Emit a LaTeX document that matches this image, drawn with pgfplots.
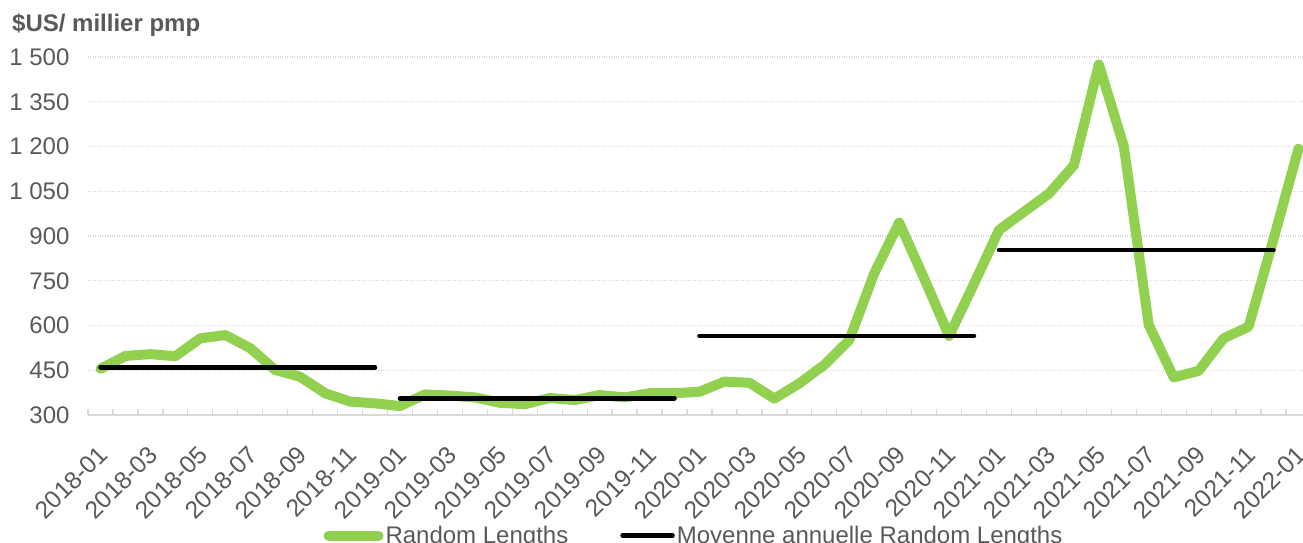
\documentclass[border=0pt]{standalone}
\usepackage{fontspec}
\setmainfont{Liberation Sans}
\usepackage{pgfplots}
\pgfplotsset{compat=1.18}
\definecolor{txtgray}{HTML}{595959}
\definecolor{rlgreen}{HTML}{92D050}
\definecolor{gridgray}{HTML}{D9D9D9}
\newcommand\chartfont{\fontsize{24}{28}\selectfont}
\newcommand\datefont{\fontsize{24.5}{28}\selectfont}

\begin{document}
\begin{tikzpicture}
\useasboundingbox (-88pt,-128pt) rectangle (1215pt,415pt);
\clip (-88pt,-128pt) rectangle (1215pt,415pt);
\begin{axis}[
  at={(0pt,0pt)}, anchor=south west,
  scale only axis, width=1223pt, height=358pt,
  xmin=-0.5, xmax=48.5, ymin=300, ymax=1500,
  axis line style={draw=none},
  xtick={0,2,...,48},
  xticklabels={2018-01,2018-03,2018-05,2018-07,2018-09,2018-11,
               2019-01,2019-03,2019-05,2019-07,2019-09,2019-11,
               2020-01,2020-03,2020-05,2020-07,2020-09,2020-11,
               2021-01,2021-03,2021-05,2021-07,2021-09,2021-11,2022-01},
  minor xtick={-0.5,0.5,...,48.5},
  xtick pos=left,
  major x tick style={draw=none},
  minor x tick style={gridgray, line width=1.3pt},
  minor tick length=6pt,
  xticklabel style={xshift=5pt, yshift=-33pt, rotate=45, anchor=east,
    font=\datefont, text=txtgray},
  ytick={300,450,...,1500},
  ytick style={draw=none},
  scaled y ticks=false,
  /pgf/number format/assume math mode=true,
  /pgf/number format/1000 sep={\ },
  yticklabel style={font=\chartfont, text=txtgray, xshift=-15pt},
  ymajorgrids,
  major y grid style={dotted, gridgray, line width=1.3pt},
  legend style={draw=none, fill=none, legend columns=2, font=\chartfont,
    text=txtgray, at={(0.4955,0)}, anchor=north, yshift=-107pt,
    /tikz/every even column/.append style={column sep=50pt}},
  legend cell align=left,
  legend image code/.code={\draw[#1] (0pt,0pt) -- (50pt,0pt);},
]
\draw[gridgray, line width=1.5pt] (rel axis cs:0,0) -- (rel axis cs:1,0);

% Random Lengths monthly price, $US per thousand board feet
\addplot[rlgreen, line width=10pt, line join=round, line cap=round] table {
x y
0 455
1 498
2 504
3 497
4 557
5 568
6 524
7 451
8 428
9 373
10 345
11 339
12 330
13 369
14 365
15 359
16 341
17 336
18 357
19 350
20 367
21 359
22 373
23 373
24 378
25 412
26 408
27 355
28 406
29 468
30 551
31 775
32 945
33 758
34 565
35 740
36 920
37 981
38 1042
39 1137
40 1475
41 1201
42 602
43 426
44 448
45 557
46 596
47 890
48 1193
};
\addlegendentry{Random Lengths}

% yearly averages, one segment per calendar year
\addplot[black, line width=4.5pt, line cap=round, unbounded coords=jump] table {
x y
0 460
11 460
11.5 nan
12 356
23 356
23.5 nan
24 565
35 565
35.5 nan
36 853
47 853
};
\addlegendentry{Moyenne annuelle Random Lengths}
\end{axis}
\node[anchor=base west, inner sep=0pt, font=\chartfont\bfseries, text=txtgray]
  at (-76pt,383pt) {\$US/ millier pmp};
\end{tikzpicture}
\end{document}
